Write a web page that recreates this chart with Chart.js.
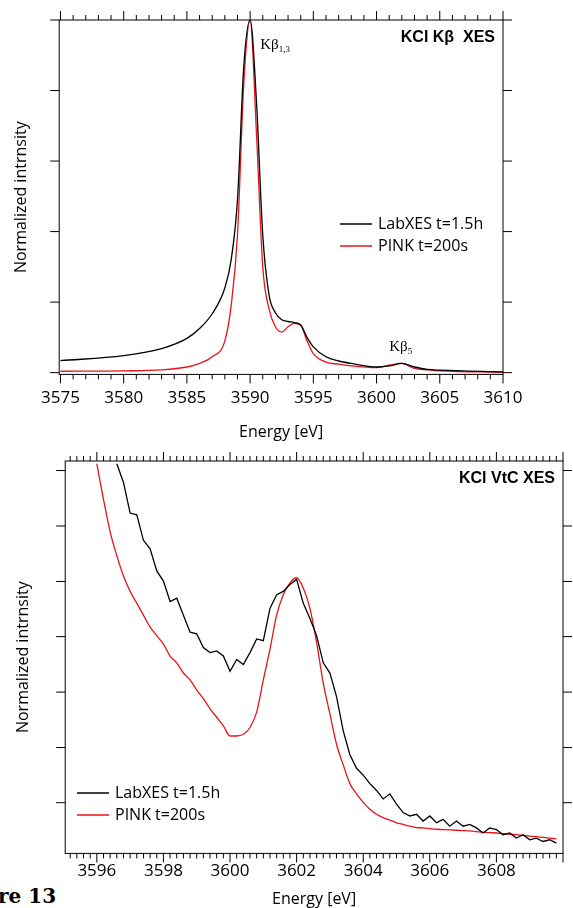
<!DOCTYPE html>
<html><head><meta charset="utf-8">
<script src="https://cdn.jsdelivr.net/npm/chart.js@4.4.0/dist/chart.umd.min.js"></script>
<style>
body{margin:0;background:#fff;width:573px;height:908px;position:relative;overflow:hidden;font-family:"Open Sans",sans-serif}
.box{position:absolute;left:0;width:573px}
#fig{position:absolute;left:-2px;top:884px;font:bold 20px "DejaVu Serif",serif;color:#000}
</style></head><body>
<div id="fig">re 13</div>
<div class="box" style="top:440px;height:475px"><canvas id="c2"></canvas></div>
<div class="box" style="top:0;height:446px"><canvas id="c1"></canvas></div>
<script>
// Kbeta main lines, energy in eV, intensity normalized to peak
var kbEnergy = [3575,3580,3583,3585,3586,3587,3588,3588.5,3589,3589.5,3590,3590.5,3591,3591.5,3592,3592.5,3593,3593.5,3594,3594.5,3595,3596,3597,3598,3600,3601,3602,3603,3604,3605,3610];
var kbLab = [0.034,0.048,0.068,0.097,0.125,0.167,0.24,0.32,0.49,0.87,1.0,0.77,0.39,0.22,0.17,0.15,0.145,0.142,0.135,0.10,0.073,0.045,0.033,0.026,0.016,0.019,0.026,0.016,0.009,0.007,0.002];
var kbPink = [0.004,0.005,0.008,0.016,0.026,0.045,0.09,0.19,0.39,0.82,1.0,0.68,0.30,0.18,0.13,0.115,0.13,0.14,0.135,0.09,0.054,0.03,0.024,0.019,0.014,0.021,0.026,0.012,0.008,0.005,0.001];
var kbTicks = [3575,3580,3585,3590,3595,3600,3605,3610];
var kbYTicks = [0,0.2,0.4,0.6,0.8,1.0];

// valence-to-core region, arbitrary units
var vtcEnergy = [3596,3596.2,3596.4,3596.6,3596.8,3597,3597.2,3597.4,3597.6,3597.8,3598,3598.2,3598.4,3598.6,3598.8,3599,3599.2,3599.4,3599.6,3599.8,3600,3600.2,3600.4,3600.6,3600.8,3601,3601.2,3601.4,3601.6,3601.8,3602,3602.2,3602.4,3602.6,3602.8,3603,3603.2,3603.4,3603.6,3603.8,3604,3604.2,3604.4,3604.6,3604.8,3605,3605.2,3605.4,3605.6,3605.8,3606,3606.2,3606.4,3606.6,3606.8,3607,3607.2,3607.4,3607.6,3607.8,3608,3608.2,3608.4,3608.6,3608.8,3609,3609.2,3609.4,3609.6,3609.8];
var vtcLab = [null,null,null,1145,1090,1000,995,920,895,830,800,740,750,700,650,645,605,590,595,580,535,570,555,590,630,625,720,760,770,790,805,735,690,640,560,530,460,360,290,250,230,205,185,160,175,145,120,110,115,95,110,90,100,80,95,80,85,75,60,75,70,55,60,45,55,40,45,35,40,30];
var vtcPink = [1145,1040,945,875,815,770,735,700,665,640,615,580,560,530,510,480,455,425,400,375,345,345,350,370,415,510,600,700,760,795,810,780,720,620,500,410,320,260,205,175,150,130,115,105,98,90,85,80,76,75,73,71,70,69,68,67,66,64,62,61,60,58,56,55,53,51,49,47,45,43];
var vtcTicks = [3596,3598,3600,3602,3604,3606,3608];
var vtcYTicks = [149,311,474,637,799,962,1125];

function pts(xs, ys){ return xs.map(function(x,i){ return {x:x, y:ys[i]}; }).filter(function(p){ return p.y!==null; }); }

function frame(opt){
  return {
    id:'frame',
    afterDraw:function(ch){
      var c=ch.ctx, a=ch.chartArea, xs=ch.scales.x, ys=ch.scales.y;
      c.save();
      c.strokeStyle='#000'; c.lineWidth=1;
      c.strokeRect(a.left,a.top,a.right-a.left,a.bottom-a.top);
      c.beginPath();
      for(var v=opt.xmin; v<=opt.xmax+1e-6; v+=opt.minor){
        var px=xs.getPixelForValue(v);
        if(px<a.left-0.5||px>a.right+0.5) continue;
        var r=(v-opt.major0)/opt.majorStep;
        var L=Math.abs(r-Math.round(r))<1e-6?9:5;
        c.moveTo(px,a.top); c.lineTo(px,a.top-L);
        c.moveTo(px,a.bottom); c.lineTo(px,a.bottom+L);
      }
      opt.yticks.forEach(function(v){
        var py=ys.getPixelForValue(v);
        c.moveTo(a.left,py); c.lineTo(a.left-9,py);
        c.moveTo(a.right,py); c.lineTo(a.right+9,py);
      });
      c.stroke();
      c.fillStyle='#000'; c.textAlign='right'; c.textBaseline='top';
      c.font='bold 16px "Liberation Sans",Arial,sans-serif';
      c.fillText(opt.title,a.right-8,a.top+10);
      opt.extra && opt.extra(c,a,xs,ys);
      var lx=opt.legX, ly=opt.legY;
      c.font='16px "Open Sans",sans-serif'; c.textAlign='left'; c.textBaseline='middle';
      [['#000','LabXES t=1.5h'],['#e8141b','PINK t=200s']].forEach(function(e,i){
        c.strokeStyle=e[0]; c.lineWidth=1.5;
        c.beginPath(); c.moveTo(lx,ly+i*22); c.lineTo(lx+32,ly+i*22); c.stroke();
        c.fillText(e[1],lx+38,ly+i*22);
      });
      c.restore();
    }
  };
}

function makeChart(id, datasets, xmin, xmax, ymin, ymax, xticks, pad, fo){
  return new Chart(document.getElementById(id), {
    type:'line',
    data:{datasets:datasets},
    options:{
      responsive:true, maintainAspectRatio:false, animation:false,
      layout:{padding:pad},
      plugins:{legend:{display:false}, tooltip:{enabled:false}},
      elements:{point:{radius:0}, line:{borderWidth:1.3, tension:0, cubicInterpolationMode:'monotone'}},
      scales:{
        x:{type:'linear', min:xmin, max:xmax,
          afterBuildTicks:function(s){ s.ticks=xticks.map(function(v){return {value:v};}); },
          grid:{display:false, drawTicks:false}, border:{display:false},
          ticks:{color:'#000', padding:fo.tkPad, font:{size:17, family:'"Open Sans",sans-serif'}, maxRotation:0,
            callback:function(v){ return String(v); }},
          title:{display:true, text:'Energy [eV]', color:'#000', padding:{top:0}, font:{size:16, family:'"Open Sans",sans-serif'}}},
        y:{min:ymin, max:ymax,
          grid:{display:false, drawTicks:false}, border:{display:false},
          ticks:{display:false},
          title:{display:true, text:'Normalized intrnsity', color:'#000', padding:{bottom:fo.ytPad}, font:{size:16, family:'"Open Sans",sans-serif'}}}
      }
    },
    plugins:[frame(fo)]
  });
}

makeChart('c1', [
  {data:pts(kbEnergy,kbLab), borderColor:'#000'},
  {data:pts(kbEnergy,kbPink), borderColor:'#e8141b'}
], 3574.9, 3610, -0.005, 1.0, kbTicks, {left:8,right:70,top:20,bottom:0},
{tkPad:14,ytPad:28,xmin:3575,xmax:3610,minor:1,major0:3575,majorStep:5,yticks:kbYTicks,title:'KCl K\u03b2  XES',legX:340,legY:224,
 extra:function(c,a,xs,ys){
   c.textAlign='left'; c.textBaseline='alphabetic';
   var x1=xs.getPixelForValue(3590.8), y1=ys.getPixelForValue(0.93)+4;
   c.font='15px "Liberation Serif",serif'; c.fillText('K\u03b2',x1,y1);
   var w=c.measureText('K\u03b2').width;
   c.font='9px "Liberation Serif",serif'; c.fillText('1,3',x1+w,y1+3);
   var x2=xs.getPixelForValue(3601.0), y2=ys.getPixelForValue(0.06);
   c.font='15px "Liberation Serif",serif'; c.fillText('K\u03b2',x2,y2);
   w=c.measureText('K\u03b2').width;
   c.font='9px "Liberation Serif",serif'; c.fillText('5',x2+w,y2+3);
 }});

makeChart('c2', [
  {data:pts(vtcEnergy,vtcLab), borderColor:'#000', cubicInterpolationMode:'default'},
  {data:pts(vtcEnergy,vtcPink), borderColor:'#e8141b'}
], 3595.05, 3610, 0, 1153, vtcTicks, {left:10,right:10,top:21,bottom:2},
{tkPad:8,ytPad:32,xmin:3595.2,xmax:3610,minor:0.2,major0:3596,majorStep:2,yticks:vtcYTicks,title:'KCl VtC XES',legX:77,legY:353});
</script>
</body></html>
